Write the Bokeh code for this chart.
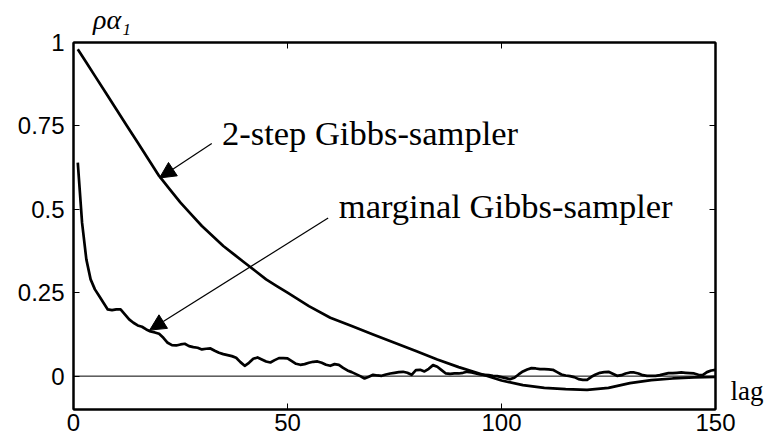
from bokeh.plotting import figure
from bokeh.models import Range1d, FixedTicker, LinearAxis, Span, Label, Arrow, NormalHead
from bokeh.embed import file_html
from bokeh.resources import INLINE

# ---- data ----
lags_two_step = [1, 3, 5, 7.5, 10, 12.5, 15, 17.5, 20, 22.5, 25, 27.5, 30, 32.5, 35, 37.5,
                 40, 42.5, 45, 47.5, 50, 55, 60, 65, 70, 75, 80, 85, 90, 95, 100, 105,
                 110, 115, 120, 125, 130, 135, 140, 145, 150]
rho_two_step = [0.98, 0.94, 0.90, 0.85, 0.80, 0.75, 0.70, 0.65, 0.60, 0.56, 0.52, 0.485, 0.45,
                0.42, 0.39, 0.365, 0.34, 0.315, 0.29, 0.27, 0.25, 0.21, 0.175, 0.15, 0.125,
                0.10, 0.075, 0.05, 0.027, 0.007, -0.013, -0.027, -0.035, -0.039, -0.041,
                -0.035, -0.021, -0.012, -0.007, -0.004, -0.002]

lags_marginal = list(range(1, 151))
rho_marginal = [
    0.64, 0.46, 0.35, 0.29, 0.26, 0.24, 0.22, 0.20, 0.198, 0.20,
    0.20, 0.185, 0.17, 0.16, 0.152, 0.148, 0.14, 0.134, 0.131, 0.127,
    0.115, 0.10, 0.093, 0.092, 0.095, 0.097, 0.09, 0.087, 0.085, 0.08,
    0.082, 0.083, 0.076, 0.07, 0.066, 0.063, 0.06, 0.055, 0.042, 0.031,
    0.04, 0.052, 0.056, 0.05, 0.044, 0.041, 0.048, 0.054, 0.054, 0.053,
    0.045, 0.037, 0.034, 0.036, 0.04, 0.043, 0.044, 0.04, 0.034, 0.031,
    0.036, 0.034, 0.025, 0.017, 0.012, 0.006, 0.0, -0.007, -0.002, 0.004,
    0.002, 0.001, 0.005, 0.008, 0.01, 0.012, 0.013, 0.01, 0.004, 0.018,
    0.019, 0.014, 0.022, 0.033, 0.028, 0.018, 0.008, 0.007, 0.008, 0.008,
    0.01, 0.013, 0.011, 0.008, 0.005, 0.004, 0.003, 0.001, 0.0, -0.003,
    -0.006, -0.009, -0.005, 0.005, 0.014, 0.02, 0.024, 0.023, 0.021, 0.021,
    0.02, 0.019, 0.012, 0.005, 0.002, 0.0, -0.003, -0.009, -0.011, -0.011,
    -0.002, 0.005, 0.01, 0.012, 0.013, 0.007, 0.001, 0.003, 0.008, 0.011,
    0.011, 0.008, 0.003, 0.001, 0.001, 0.001, 0.003, 0.006, 0.009, 0.009,
    0.01, 0.011, 0.01, 0.009, 0.008, 0.004, 0.003, 0.012, 0.017, 0.019]

x_ticks = [0, 50, 100, 150]
y_ticks = [0, 0.25, 0.5, 0.75, 1]
y_tick_labels = ["0", "0.25", "0.5", "0.75", "1"]

label_two_step = "2-step Gibbs-sampler"
label_marginal = "marginal Gibbs-sampler"
x_label = "lag"
y_label = "ρα₁"
x_label_at = -0.046   # y position (data) of the "lag" label on the right side
y_label_at = 9.0      # x position (data) of the rho label on the top side

# ---- figure ----
p = figure(width=766, height=440, output_backend="svg", toolbar_location=None,
           x_range=Range1d(0, 150), y_range=Range1d(-0.1, 1),
           min_border_left=73, min_border_right=49, min_border_top=39, min_border_bottom=31)
p.background_fill_color = "white"
p.border_fill_color = "white"
p.xgrid.visible = False
p.ygrid.visible = False
p.outline_line_color = "black"
p.outline_line_width = 2

serif = "Liberation Serif"
sans = "Liberation Sans"

def style_axis(ax):
    ax.axis_line_color = "black"
    ax.axis_line_width = 2
    ax.major_tick_in = 6
    ax.major_tick_out = 0
    ax.major_tick_line_color = "black"
    ax.major_tick_line_width = 1
    ax.minor_tick_line_color = None
    ax.major_label_text_font = sans
    ax.major_label_text_font_size = "24px"
    ax.major_label_text_color = "black"
    ax.major_label_standoff = 4

p.xaxis.ticker = FixedTicker(ticks=x_ticks)
p.yaxis.ticker = FixedTicker(ticks=y_ticks)
p.yaxis.major_label_overrides = {t: s for t, s in zip(y_ticks, y_tick_labels)}
style_axis(p.xaxis[0])
style_axis(p.yaxis[0])
p.yaxis[0].major_label_standoff = 9

def side_axis(ticks, label_at, label_text, font_size, standoff):
    ax = LinearAxis(ticker=FixedTicker(ticks=[label_at], minor_ticks=ticks))
    ax.axis_line_color = "black"
    ax.axis_line_width = 2
    ax.major_tick_line_color = None
    ax.minor_tick_line_color = "black"
    ax.minor_tick_line_width = 1
    ax.minor_tick_in = 6
    ax.minor_tick_out = 0
    ax.major_label_overrides = {label_at: label_text}
    ax.major_label_text_font = serif
    ax.major_label_text_font_size = font_size
    ax.major_label_text_color = "black"
    ax.major_label_standoff = standoff
    return ax

ax_top = side_axis(x_ticks, y_label_at, y_label, "28px", 2)
ax_top.major_label_text_font_style = "italic"
p.add_layout(ax_top, "above")
ax_right = side_axis(y_ticks, x_label_at, x_label, "27px", 9)
p.add_layout(ax_right, "right")

# zero line
p.add_layout(Span(location=0, dimension="width", line_color="black", line_width=1))

# curves
p.line(lags_two_step, rho_two_step, line_color="black", line_width=2.7, line_join="round")
p.line(lags_marginal, rho_marginal, line_color="black", line_width=2.7, line_join="round")

# annotations
p.add_layout(Arrow(end=NormalHead(size=16, fill_color="black", line_color="black", line_width=1),
                   x_start=32.3, y_start=0.697, x_end=20.1, y_end=0.594,
                   line_color="black", line_width=1.2))
p.add_layout(Arrow(end=NormalHead(size=16, fill_color="black", line_color="black", line_width=1),
                   x_start=59.5, y_start=0.474, x_end=17.8, y_end=0.138,
                   line_color="black", line_width=1.2))

p.add_layout(Label(x=34.7, y=0.730, text=label_two_step, text_font=serif,
                   text_font_size="34.5px", text_baseline="alphabetic", text_color="black"))
p.add_layout(Label(x=62.0, y=0.510, text=label_marginal, text_font=serif,
                   text_font_size="34.5px", text_baseline="alphabetic", text_color="black"))

open("out.html", "w").write(file_html(p, INLINE))
